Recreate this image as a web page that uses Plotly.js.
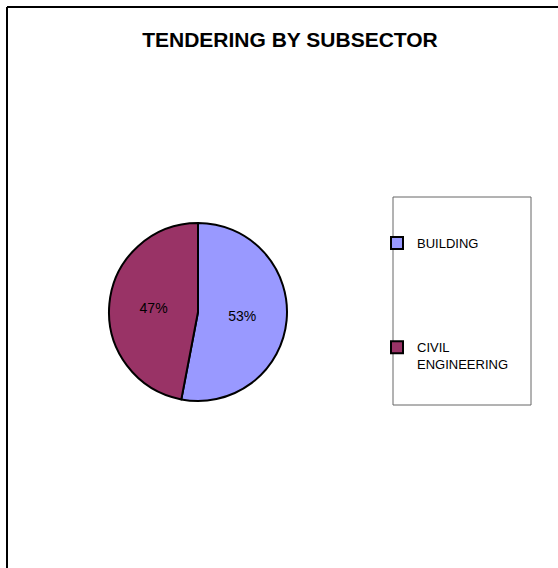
<!DOCTYPE html>
<html>
<head>
<meta charset="utf-8">
<script src="https://cdn.plot.ly/plotly-3.0.1.min.js"></script>
<style>
html,body{margin:0;padding:0;background:#fff;}
#chart{width:558px;height:568px;}
</style>
</head>
<body>
<div id="chart"></div>
<script>
var chartTitle = "TENDERING BY SUBSECTOR";
var categories = ["BUILDING", "CIVIL<br>ENGINEERING"];
var shares = [53, 47];
var sliceColors = ["#9999FF", "#993366"];

var W = 558, H = 568;
function px(x){ return x / W; }
function py(y){ return 1 - y / H; }

// pad the first legend entry with blank lines so the gap between entries matches
var legendLabels = categories.map(function(c, i){
  return i === 0 ? c + "<br> <br> <br> <br> <br> " : c;
});

var trace = {
  type: "pie",
  labels: legendLabels,
  values: shares,
  sort: false,
  direction: "clockwise",
  rotation: 0,
  marker: {colors: sliceColors, line: {color: "#000000", width: 2}},
  textinfo: "percent",
  textposition: "inside",
  insidetextorientation: "horizontal",
  textfont: {family: "Liberation Sans, Arial, sans-serif", size: 14, color: "#000000"},
  domain: {x: [px(109), px(287)], y: [py(401), py(223)]},
  hoverinfo: "label+percent"
};

var layout = {
  width: W, height: H,
  margin: {l: 0, r: 0, t: 0, b: 0},
  paper_bgcolor: "#ffffff",
  plot_bgcolor: "#ffffff",
  font: {family: "Liberation Sans, Arial, sans-serif", color: "#000000"},
  title: {
    text: "<b>" + chartTitle + "</b>",
    font: {family: "Liberation Sans, Arial, sans-serif", size: 21, color: "#000000"},
    x: px(290), xanchor: "center", xref: "paper",
    y: py(40), yanchor: "middle", yref: "paper"
  },
  showlegend: true,
  legend: {
    x: px(377), xanchor: "left",
    y: py(228), yanchor: "top",
    bgcolor: "rgba(0,0,0,0)",
    borderwidth: 0,
    valign: "top",
    traceorder: "normal",
    font: {family: "Liberation Sans, Arial, sans-serif", size: 13, color: "#000000"}
  },
  shapes: [
    {type: "line", xref: "paper", yref: "paper", x0: px(7), x1: 1, y0: py(7), y1: py(7), line: {color: "#000000", width: 2}},
    {type: "line", xref: "paper", yref: "paper", x0: px(7), x1: px(7), y0: py(7), y1: 0, line: {color: "#000000", width: 2}},
    {type: "rect", xref: "paper", yref: "paper", x0: px(393), x1: px(531), y0: py(405), y1: py(197), line: {color: "#666666", width: 1}, fillcolor: "rgba(0,0,0,0)"}
  ]
};

Plotly.newPlot("chart", [trace], layout, {displayModeBar: false, staticPlot: true});
</script>
</body>
</html>
